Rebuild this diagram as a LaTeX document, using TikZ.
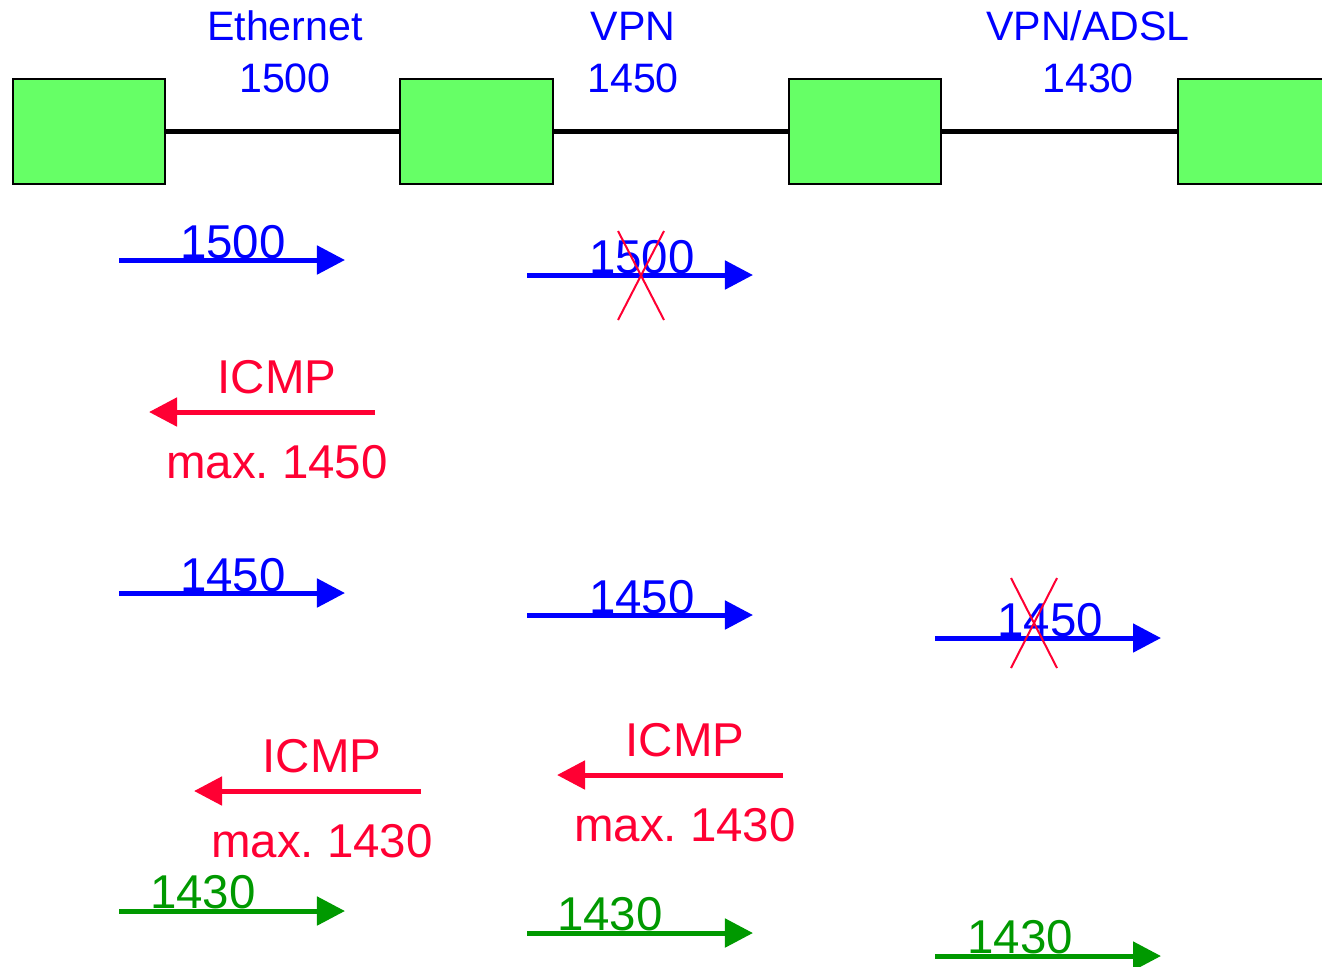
\documentclass[tikz,border=0pt]{standalone}
\usepackage{fontspec}
\setmainfont{Liberation Sans}
\usetikzlibrary{arrows.meta}
\definecolor{boxgreen}{HTML}{66FF66}
\definecolor{pblue}{HTML}{0000FF}
\definecolor{pred}{HTML}{FF0033}
\definecolor{pgreen}{HTML}{009900}
\begin{document}
\begin{tikzpicture}[x=0.01cm,y=-0.01cm,
 router/.style={draw=black, line width=0.02cm, fill=boxgreen, minimum width=1.52cm, minimum height=1.05cm, inner sep=0pt, outer sep=0pt},
 link/.style={line width=0.05cm},
 pkt/.style={line width=0.05cm, -{Triangle[length=0.28cm,width=0.28cm]}},
 toplabel/.style={font=\fontsize{11.7}{14}\selectfont, text=pblue, anchor=base, inner sep=0pt},
 lbl/.style={font=\fontsize{13.5}{16}\selectfont, anchor=base, inner sep=0pt},
 crossline/.style={draw=pred, line width=0.02cm}]
\useasboundingbox (0,0) rectangle (1322,966);
\clip (0,0) rectangle (1322,966);

% routers
\node[router] (r1) at (89,131.5) {};
\node[router] (r2) at (476.5,131.5) {};
\node[router] (r3) at (865,131.5) {};
\node[router] (r4) at (1254,131.5) {};
\draw[link] (r1) -- (r2);
\draw[link] (r2) -- (r3);
\draw[link] (r3) -- (r4);

% top labels
\node[toplabel] (t1a) at (285,40) {Ethernet};
\node[toplabel] (t1b) at (285,92) {1500};
\node[toplabel] (t2a) at (633,40) {VPN};
\node[toplabel] (t2b) at (633,92) {1450};
\node[toplabel] (t3a) at (1088,40) {VPN/ADSL};
\node[toplabel] (t3b) at (1088,92) {1430};

% row 1
\coordinate (a1s) at (119,260); \coordinate (a1e) at (345,260);
\draw[pkt, pblue] (a1s) -- (a1e);
\node[lbl, text=pblue] (a1l) at (233,258) {1500};
\coordinate (a2s) at (527,275); \coordinate (a2e) at (753,275);
\draw[pkt, pblue] (a2s) -- (a2e);
\node[lbl, text=pblue] (a2l) at (642,273) {1500};
\coordinate (x1a) at (618,231); \coordinate (x1b) at (664,320);
\coordinate (x1c) at (664,231); \coordinate (x1d) at (618,320);
\draw[crossline] (x1a) -- (x1b);
\draw[crossline] (x1c) -- (x1d);

% row 2: ICMP
\coordinate (i1s) at (375,412); \coordinate (i1e) at (149,412);
\draw[pkt, pred] (i1s) -- (i1e);
\node[lbl, text=pred] (i1t) at (277,393) {ICMP};
\node[lbl, text=pred] (i1m) at (277,478) {max.\ 1450};

% row 3
\coordinate (b1s) at (119,593); \coordinate (b1e) at (345,593);
\draw[pkt, pblue] (b1s) -- (b1e);
\node[lbl, text=pblue] (b1l) at (233,591) {1450};
\coordinate (b2s) at (527,615); \coordinate (b2e) at (753,615);
\draw[pkt, pblue] (b2s) -- (b2e);
\node[lbl, text=pblue] (b2l) at (642,613) {1450};
\coordinate (b3s) at (935,638); \coordinate (b3e) at (1161,638);
\draw[pkt, pblue] (b3s) -- (b3e);
\node[lbl, text=pblue] (b3l) at (1050,636) {1450};
\coordinate (x2a) at (1011,578); \coordinate (x2b) at (1057,668);
\coordinate (x2c) at (1057,578); \coordinate (x2d) at (1011,668);
\draw[crossline] (x2a) -- (x2b);
\draw[crossline] (x2c) -- (x2d);

% row 4: ICMP
\coordinate (i2s) at (421,791); \coordinate (i2e) at (194,791);
\draw[pkt, pred] (i2s) -- (i2e);
\node[lbl, text=pred] (i2t) at (322,772) {ICMP};
\node[lbl, text=pred] (i2m) at (322,857) {max.\ 1430};
\coordinate (i3s) at (783,775); \coordinate (i3e) at (557,775);
\draw[pkt, pred] (i3s) -- (i3e);
\node[lbl, text=pred] (i3t) at (685,756) {ICMP};
\node[lbl, text=pred] (i3m) at (685,841) {max.\ 1430};

% row 5
\coordinate (g1s) at (119,911); \coordinate (g1e) at (345,911);
\draw[pkt, pgreen] (g1s) -- (g1e);
\node[lbl, text=pgreen] (g1l) at (203,908) {1430};
\coordinate (g2s) at (527,933); \coordinate (g2e) at (753,933);
\draw[pkt, pgreen] (g2s) -- (g2e);
\node[lbl, text=pgreen] (g2l) at (610,930) {1430};
\coordinate (g3s) at (935,956); \coordinate (g3e) at (1161,956);
\draw[pkt, pgreen] (g3s) -- (g3e);
\node[lbl, text=pgreen] (g3l) at (1020,953) {1430};
\end{tikzpicture}
\end{document}
